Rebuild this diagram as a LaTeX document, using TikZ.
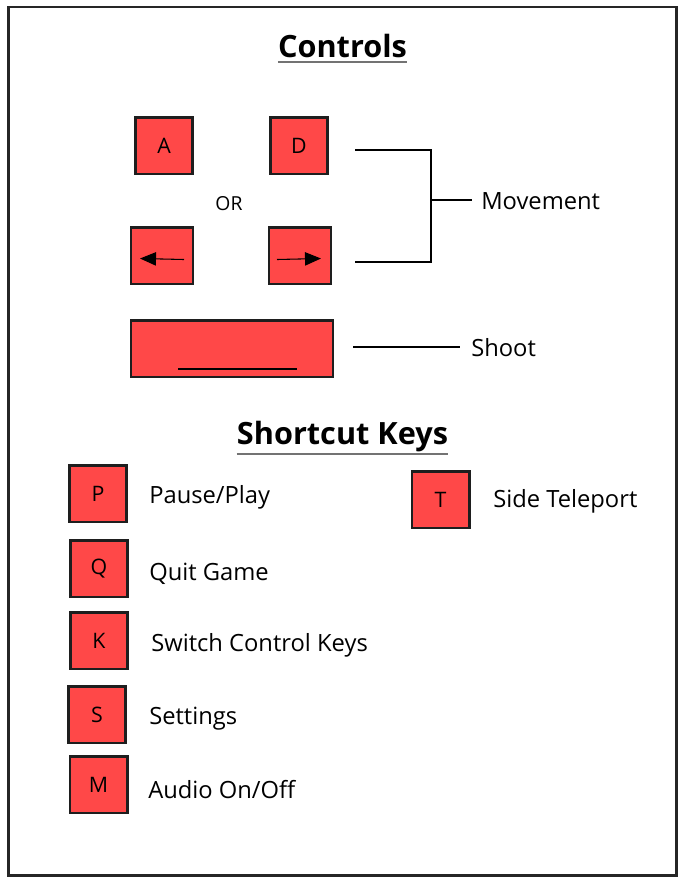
\documentclass[tikz,border=0pt]{standalone}
\usepackage{fontspec}
\setmainfont{Open Sans}
\usetikzlibrary{arrows.meta}
\definecolor{keyred}{RGB}{255,72,72}
\definecolor{edge}{RGB}{30,30,30}
\begin{document}
\begin{tikzpicture}[x=0.75pt,y=-0.75pt,
  keybox/.style={draw=edge,fill=keyred,line width=2pt,minimum width=43pt,minimum height=42.5pt,inner sep=0pt,font=\fontsize{16}{19}\selectfont},
  lbl/.style={anchor=west,inner sep=0pt,font=\fontsize{17.8}{21}\selectfont},
  ttl/.style={inner sep=0pt,font=\fontsize{23}{27}\selectfont\bfseries},
  uline/.style={draw=black!55,line width=1.5pt},
  wire/.style={draw=black,line width=1.8pt},
  keyarrow/.style={-{Triangle[length=12pt,width=10pt]},line width=0.8pt}]
\useasboundingbox (0,0) rectangle (685,883);
\draw[line width=2pt,draw=black!85] (8.5,7) rectangle (676.5,875.5);
% titles
\node[ttl] (ctitle) at (342.5,46) {Controls};
\coordinate (cy) at (0,61.5);
\draw[uline] (ctitle.west |- cy) -- (ctitle.east |- cy);
\node[ttl] (stitle) at (342.5,437) {Shortcut Keys};
\coordinate (sy) at (0,453.5);
\draw[uline] (stitle.west |- sy) -- (stitle.east |- sy);
% control keys
\node[keybox] (kA) at (164,145.5) {A};
\node[keybox] (kD) at (299,145.5) {D};
\node[font=\fontsize{14.5}{17}\selectfont] (or) at (229,204) {OR};
\node[keybox,minimum width=46.5pt] (kL) at (162,255.5) {};
\node[keybox,minimum width=46.5pt] (kR) at (300,255.5) {};
\coordinate (la1) at (184,259.5); \coordinate (la2) at (140,258.5);
\draw[keyarrow] (la1) -- (la2);
\coordinate (ra1) at (277,259.5); \coordinate (ra2) at (321,258.5);
\draw[keyarrow] (ra1) -- (ra2);
% movement bracket
\coordinate (b1) at (355,150); \coordinate (b2) at (431,150);
\coordinate (b3) at (431,262); \coordinate (b4) at (355,262);
\coordinate (bm) at (431,200); \coordinate (bt) at (472,200);
\draw[wire] (b1) -- (b2) -- (b3) -- (b4);
\draw[wire] (bm) -- (bt);
\node[lbl] (mv) at (481,201) {Movement};
% shoot
\node[keybox,minimum width=151.5pt] (sp) at (232,348.5) {};
\coordinate (sl1) at (178,369); \coordinate (sl2) at (297,369);
\draw[line width=0.8pt] (sl1) -- (sl2);
\coordinate (sh1) at (353,347); \coordinate (sh2) at (460,347);
\draw[wire] (sh1) -- (sh2);
\node[lbl] (shoot) at (471,348) {Shoot};
% shortcut keys
\node[keybox] (kP) at (98,493.5) {P};
\node[lbl] (tP) at (149,497.5) {Pause/Play};
\node[keybox] (kQ) at (99,568.5) {Q};
\node[lbl] (tQ) at (149,573.5) {Quit Game};
\node[keybox] (kK) at (99,640.5) {K};
\node[lbl] (tK) at (151,645.5) {Switch Control Keys};
\node[keybox] (kS) at (97,714.5) {S};
\node[lbl] (tS) at (149,718.5) {Settings};
\node[keybox] (kM) at (98.5,784.5) {M};
\node[lbl] (tM) at (148,789.5) {Audio On/Off};
\node[keybox] (kT) at (440.5,499.5) {T};
\node[lbl] (tT) at (493,501.5) {Side Teleport};
\end{tikzpicture}
\end{document}
